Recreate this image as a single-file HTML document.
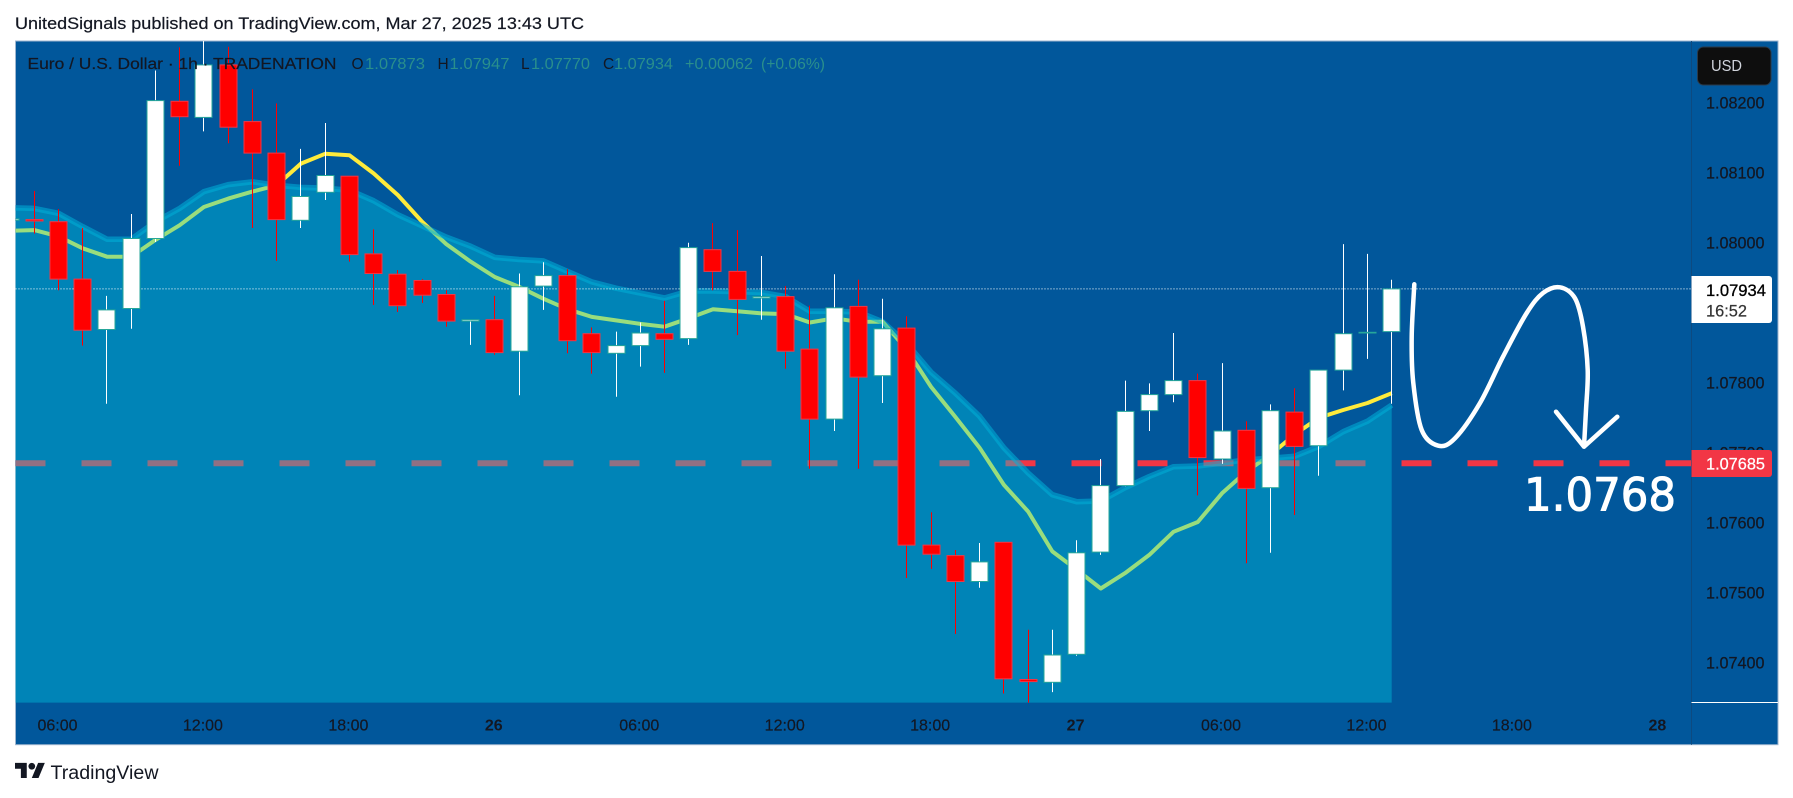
<!DOCTYPE html>
<html>
<head>
<meta charset="utf-8">
<title>EUR/USD chart</title>
<style>
html,body{margin:0;padding:0;background:#fff;width:1793px;height:798px;overflow:hidden}
svg{display:block;font-family:"Liberation Sans",sans-serif}
</style>
</head>
<body>
<svg id="chart" xmlns="http://www.w3.org/2000/svg" width="1793" height="798" viewBox="0 0 1793 798">
  <defs>
    <clipPath id="plot-clip"><rect x="15.5" y="41" width="1676" height="661.7"/></clipPath>
  </defs>
  <rect x="0" y="0" width="1793" height="798" fill="#ffffff"/>
  <text x="15" y="29" font-size="17" fill="#131722" stroke="#131722" stroke-width="0.2" textLength="569" lengthAdjust="spacingAndGlyphs">UnitedSignals published on TradingView.com, Mar 27, 2025 13:43 UTC</text>
  <rect x="15.5" y="41" width="1762.5" height="703.7" fill="#01579b" stroke="#9fb6cf" stroke-width="1"/>
  <g id="plot" clip-path="url(#plot-clip)"></g>
  <g fill="none" stroke="#ffffff" stroke-width="4.5" stroke-linecap="round" stroke-linejoin="round">
    <path d="M1414.3 284.3 C1413.4 301.8 1411.9 320.3 1411.7 336.7 C1411.5 353.2 1411.6 367.5 1413.3 383 C1415 398.6 1417.5 419.6 1421.7 430 C1425.9 440.5 1432.8 444.3 1438.3 445.7 C1443.9 447.1 1448 445.4 1455 438.3 C1462 431.2 1472 416.6 1480 403 C1488 389.4 1495.2 371.7 1503 356.7 C1510.8 341.7 1520 323.6 1526.7 313 C1533.4 302.4 1537.5 297.3 1543 293 C1548.6 288.7 1554.7 286.4 1560 287.3 C1565.3 288.2 1571.2 291.7 1575 298.3 C1578.8 304.9 1580.9 314.8 1583 326.7 C1585.1 338.7 1587.2 356.1 1587.7 370 C1588.2 383.9 1586.6 397.3 1586 410 C1585.4 422.7 1584.7 434 1584 446"/>
    <path d="M1556 411.7 L1584 446.7 L1617.3 416.7"/>
  </g>
  <text x="1524" y="510.5" font-family="'DejaVu Sans',sans-serif" font-size="45" fill="#ffffff" stroke="#ffffff" stroke-width="1" textLength="152" lengthAdjust="spacingAndGlyphs">1.0768</text>
  <g font-size="15.5">
    <text x="27.5" y="69" fill="#131722" stroke="#131722" stroke-width="0.2" textLength="309" lengthAdjust="spacingAndGlyphs">Euro / U.S. Dollar · 1h · TRADENATION</text>
    <text x="351.5" y="69" fill="#131722">O</text>
    <text x="365" y="69" fill="#2a8f8c" textLength="60" lengthAdjust="spacingAndGlyphs">1.07873</text>
    <text x="437.5" y="69" fill="#131722">H</text>
    <text x="449.5" y="69" fill="#2a8f8c" textLength="60" lengthAdjust="spacingAndGlyphs">1.07947</text>
    <text x="521" y="69" fill="#131722">L</text>
    <text x="531" y="69" fill="#2a8f8c" textLength="59" lengthAdjust="spacingAndGlyphs">1.07770</text>
    <text x="603" y="69" fill="#131722">C</text>
    <text x="614" y="69" fill="#2a8f8c" textLength="59" lengthAdjust="spacingAndGlyphs">1.07934</text>
    <text x="685" y="69" fill="#2a8f8c" textLength="68" lengthAdjust="spacingAndGlyphs">+0.00062</text>
    <text x="761" y="69" fill="#2a8f8c" textLength="64" lengthAdjust="spacingAndGlyphs">(+0.06%)</text>
  </g>
  <line x1="1691.5" y1="41" x2="1691.5" y2="744.7" stroke="#0d4a80" stroke-width="1"/>
  <line x1="1691.5" y1="702.5" x2="1778" y2="702.5" stroke="#ffffff" stroke-width="1"/>
  <g id="price-axis"></g>
  <g id="time-axis"></g>
  <g>
    <rect x="1697.5" y="47" width="73.5" height="38" rx="6" fill="#0e0e0e" stroke="#2a3a4a" stroke-width="1"/>
    <text x="1711" y="71" font-size="16" fill="#d1d4dc" textLength="31" lengthAdjust="spacingAndGlyphs">USD</text>
  </g>
  <g>
    <path d="M1691.5 276 H1769 a3 3 0 0 1 3 3 V320 a3 3 0 0 1 -3 3 H1691.5 Z" fill="#ffffff"/>
    <text x="1706" y="296" font-size="16.5" fill="#000000" stroke="#000000" stroke-width="0.3" textLength="60" lengthAdjust="spacingAndGlyphs">1.07934</text>
    <text x="1706" y="316.5" font-size="16.5" fill="#333333" stroke="#333333" stroke-width="0.2" textLength="41" lengthAdjust="spacingAndGlyphs">16:52</text>
  </g>
  <g>
    <path d="M1691.5 450 H1769 a3 3 0 0 1 3 3 V474 a3 3 0 0 1 -3 3 H1691.5 Z" fill="#f23645"/>
    <text x="1706" y="469.3" font-size="16.5" fill="#ffffff" stroke="#ffffff" stroke-width="0.25" textLength="59" lengthAdjust="spacingAndGlyphs">1.07685</text>
  </g>
  <g>
    <g transform="translate(15 759.5) scale(0.84)" fill="#131722">
      <path d="M14 22H7V11H0V4h14v18zM28 22h-8l7.5-18h8L28 22z"/>
      <circle cx="20" cy="8" r="4"/>
    </g>
    <text x="50.5" y="779" font-size="19" fill="#131722" textLength="108" lengthAdjust="spacingAndGlyphs">TradingView</text>
  </g>
</svg>
<script>
// Chart data (hours counted from 06:00 on Mar 25; first bar is hour -2)
var firstHour = -2;
var openPrices = [1.08032,1.08033,1.08030,1.07948,1.07876,1.07906,1.08006,1.08202,1.08179,1.08254,1.08173,1.08128,1.08032,1.08072,1.08095,1.07984,1.07955,1.07946,1.07926,1.07888,1.07890,1.07845,1.07938,1.07953,1.07870,1.07842,1.07853,1.07870,1.07863,1.07990,1.07959,1.07921,1.07923,1.07848,1.07748,1.07909,1.07810,1.07878,1.07568,1.07553,1.07516,1.07572,1.07376,1.07372,1.07412,1.07558,1.07653,1.07760,1.07783,1.07803,1.07691,1.07732,1.07650,1.07758,1.07710,1.07818,1.07871,1.07873];
var highPrices = [1.08035,1.08074,1.08048,1.08021,1.07924,1.08041,1.08246,1.08279,1.08300,1.08280,1.08219,1.08199,1.08134,1.08171,1.08095,1.08019,1.07961,1.07948,1.07932,1.07890,1.07924,1.07956,1.07972,1.07962,1.07879,1.07873,1.07886,1.07917,1.08000,1.08028,1.08018,1.07981,1.07938,1.07910,1.07955,1.07947,1.07920,1.07895,1.07615,1.07561,1.07571,1.07572,1.07447,1.07447,1.07575,1.07691,1.07803,1.07799,1.07871,1.07813,1.07828,1.07745,1.07769,1.07792,1.07818,1.07998,1.07984,1.07947];
var lowPrices = [1.08031,1.08013,1.07932,1.07853,1.07770,1.07877,1.08001,1.08110,1.08159,1.08142,1.08021,1.07974,1.08021,1.08061,1.07973,1.07911,1.07901,1.07914,1.07880,1.07854,1.07840,1.07782,1.07904,1.07842,1.07813,1.07780,1.07823,1.07814,1.07854,1.07932,1.07868,1.07890,1.07820,1.07677,1.07731,1.07677,1.07771,1.07521,1.07534,1.07441,1.07507,1.07356,1.07340,1.07358,1.07410,1.07554,1.07652,1.07731,1.07772,1.07639,1.07684,1.07542,1.07557,1.07611,1.07667,1.07789,1.07834,1.07770];
var closePrices = [1.08034,1.08031,1.07948,1.07875,1.07904,1.08006,1.08203,1.08180,1.08254,1.08165,1.08128,1.08033,1.08066,1.08096,1.07983,1.07956,1.07910,1.07925,1.07888,1.07890,1.07843,1.07937,1.07953,1.07860,1.07843,1.07853,1.07871,1.07862,1.07993,1.07959,1.07919,1.07923,1.07845,1.07748,1.07907,1.07808,1.07877,1.07568,1.07555,1.07516,1.07544,1.07377,1.07373,1.07411,1.07557,1.07653,1.07759,1.07783,1.07803,1.07693,1.07731,1.07649,1.07760,1.07709,1.07818,1.07870,1.07872,1.07934];
var movingAverage = [1.08017,1.08018,1.08009,1.07992,1.07980,1.07980,1.08004,1.08025,1.08051,1.08063,1.08073,1.08082,1.08113,1.08127,1.08125,1.08099,1.08068,1.08030,1.07998,1.07973,1.07951,1.07937,1.07920,1.07905,1.07894,1.07889,1.07884,1.07880,1.07892,1.07905,1.07902,1.07899,1.07898,1.07886,1.07892,1.07887,1.07887,1.07847,1.07794,1.07751,1.07707,1.07654,1.07616,1.07559,1.07533,1.07506,1.07528,1.07554,1.07587,1.07601,1.07642,1.07673,1.07697,1.07726,1.07750,1.07761,1.07771,1.07785];
var areaValues = [1.08050,1.08049,1.08042,1.08023,1.08005,1.08005,1.08030,1.08049,1.08073,1.08083,1.08087,1.08082,1.08079,1.08078,1.08075,1.08060,1.08040,1.08024,1.08008,1.07995,1.07979,1.07976,1.07974,1.07959,1.07944,1.07935,1.07928,1.07921,1.07931,1.07931,1.07930,1.07929,1.07923,1.07902,1.07902,1.07901,1.07887,1.07856,1.07815,1.07785,1.07752,1.07707,1.07671,1.07640,1.07630,1.07631,1.07650,1.07666,1.07680,1.07681,1.07685,1.07690,1.07692,1.07695,1.07709,1.07730,1.07745,1.07768];
var priceTicks = [1.08200,1.08100,1.08000,1.07800,1.07700,1.07600,1.07500,1.07400];
var timeTickHours = [0,6,12,18,24,30,36,42,48,54,60,66];
var timeTickLabels = ["06:00","12:00","18:00","26","06:00","12:00","18:00","27","06:00","12:00","18:00","28"];
var levelPrice = 1.07685;
var lastPrice = 1.07934;

var NS = "http://www.w3.org/2000/svg";
function xScale(hour){ return 58.5 + 24.24 * hour; }
function yScale(price){ return 102.7 + (1.082 - price) * 70000; }
function make(tag, parent, attrs){
  var el = document.createElementNS(NS, tag);
  for (var k in attrs) el.setAttribute(k, attrs[k]);
  parent.appendChild(el);
  return el;
}
var plot = document.getElementById("plot");
var priceAxis = document.getElementById("price-axis");
var timeAxis = document.getElementById("time-axis");

function linePoints(values){
  return values.map(function(v, i){
    return xScale(firstHour + i).toFixed(1) + "," + yScale(v).toFixed(1);
  });
}

// moving average, sits beneath the translucent area
var maLine = make("polyline", plot, {points: linePoints(movingAverage).join(" "), fill: "none", stroke: "#ffeb3b", "stroke-width": 4, "stroke-linejoin": "round"});



// horizontal target level
var levelY = yScale(levelPrice);
var levelLine = make("line", plot, {x1: 15.5, x2: 1691.5, y1: levelY, y2: levelY, stroke: "#f23645", "stroke-width": 6, "stroke-dasharray": "30 36"});



// area fill and its upper edge
var areaPts = linePoints(areaValues);
var lastX = xScale(firstHour + areaValues.length - 1).toFixed(1);
var firstX = xScale(firstHour).toFixed(1);
var areaFill = make("polygon", plot, {points: areaPts.join(" ") + " " + lastX + ",702.7 " + firstX + ",702.7", fill: "#00c8e1", "fill-opacity": 0.4});


var areaEdge = make("polyline", plot, {points: areaPts.join(" "), fill: "none", stroke: "#00b0d8", "stroke-opacity": 0.55, "stroke-width": 5.5, "stroke-linejoin": "round"});



// last price dotted line
var lastY = yScale(lastPrice);
var lastLine = make("line", plot, {x1: 15.5, x2: 1691.5, y1: lastY, y2: lastY, stroke: "#ffffff", "stroke-width": 1, "stroke-dasharray": "1 2"});



// candles
openPrices.forEach(function(open, i){
  var close = closePrices[i];
  var up = close >= open;
  var cx = Math.floor(xScale(firstHour + i)) + 0.5;
  var wick = make("line", plot, {x1: cx, x2: cx, y1: yScale(highPrices[i]), y2: yScale(lowPrices[i]), stroke: up ? "#ffffff" : "#ff0000", "stroke-width": 1});
  
  
  var top = yScale(Math.max(open, close));
  var bottom = yScale(Math.min(open, close));
  var body = make("rect", plot, {x: cx - 8.5, y: top, width: 17, height: Math.max(bottom - top, 0.6), fill: up ? "#ffffff" : "#ff0000", stroke: up ? "#26a69a" : "#f23645", "stroke-width": 1});
  
  
});

// price axis
priceTicks.forEach(function(p){
  var t = make("text", priceAxis, {x: 1706, y: yScale(p) + 5.7, "font-size": 16.5, fill: "#131722", stroke: "#131722", "stroke-width": 0.25, textLength: 58.5, lengthAdjust: "spacingAndGlyphs"});
  t.textContent = p.toFixed(5);
  
  
});

// time axis
timeTickHours.forEach(function(h, i){
  var label = timeTickLabels[i];
  var isDay = label.length < 3;
  var t = make("text", timeAxis, {x: xScale(h) - 1, y: 730.5, "font-size": 16, "text-anchor": "middle", fill: "#131722", stroke: "#131722", "stroke-width": isDay ? 0 : 0.2, "font-weight": isDay ? "bold" : "normal"});
  t.textContent = label;
  
  
});
</script>
</body>
</html>
